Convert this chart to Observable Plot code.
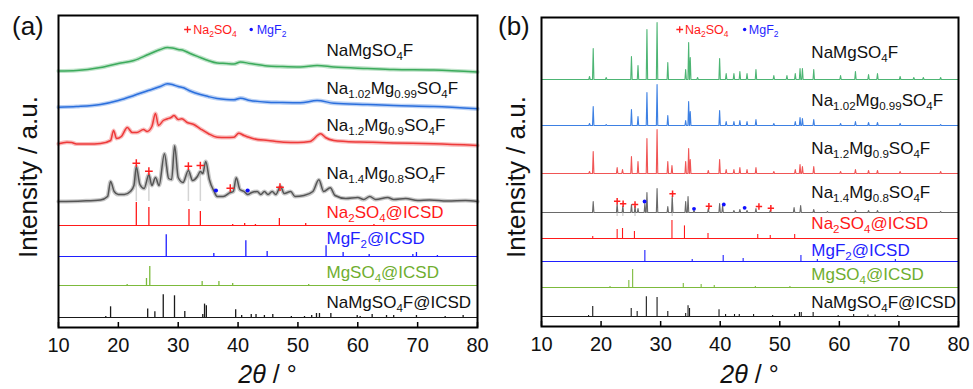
<!DOCTYPE html>
<html><head><meta charset="utf-8">
<script src="https://cdn.jsdelivr.net/npm/d3@7"></script>
<script src="https://cdn.jsdelivr.net/npm/@observablehq/plot@0.6"></script>
<style>
body{margin:0;background:#fff;font-family:Arial,"Liberation Sans",sans-serif;}
#wrap{position:relative;width:973px;height:389px;overflow:hidden;background:#fff;}
#wrap svg{position:absolute;top:0;}
</style></head><body><div id="wrap"></div>
<script>
// ---------- shared ----------
const xTicks = [10, 20, 30, 40, 50, 60, 70, 80];
const seriesNames = ["NaMgSO_{4}F", "Na_{1.02}Mg_{0.99}SO_{4}F", "Na_{1.2}Mg_{0.9}SO_{4}F", "Na_{1.4}Mg_{0.8}SO_{4}F",
  "Na_{2}SO_{4}@ICSD", "MgF_{2}@ICSD", "MgSO_{4}@ICSD", "NaMgSO_{4}F@ICSD"];
const labelColors = ["#111", "#111", "#111", "#111", "#ff1a1a", "#1f1fff", "#6fae2f", "#111"];
const expColorsA = ["#3cab5c", "#2b6fdd", "#ee3a3a", "#555555"];
const expColorsB = ["#4db574", "#3d80e3", "#f05555", "#6a6a6a"];
const icsdColors = ["#ff1a1a", "#1f1fff", "#7cba3c", "#1a1a1a"];
const legendNames = ["Na_{2}SO_{4}", "MgF_{2}"];

// ---------- panel (a) ----------
const offsetsA = [256, 220, 183, 126, 102, 71, 42, 10];
const labelLiftA = [21, 19, 19, 28, 13, 18, 13, 15];
const greenA = [[10,0.5],[13,1],[17,4],[20,8],[22.6,11],[25,17],[27,22],[28.2,24],[29,23.5],[30,22],[30.9,21],[32,18],[33.7,14],[35,11],[36.5,8.5],[38,8],[39.3,7.5],[40.4,9.5],[42,8],[44.9,5.5],[47,5],[50.4,4.5],[53.2,6],[56,4.5],[61.6,3],[66,2],[72.7,1.5],[80,-0.5]];
const blueA = [[10,0.3],[13,1],[17,3],[20,7],[22.6,12],[25,17],[27,21],[28.2,23.7],[29,23],[30,21],[30.9,19.7],[32,16.5],[33.7,13],[35,11],[36.5,9],[38,8],[39.3,7.7],[40.4,9.3],[42,7],[44.9,5.3],[47,5],[50.4,4.7],[53.2,7],[56,4.3],[61.6,3],[66,2],[72.7,1],[80,-1.3]];
const redA = [[10,0.7],[11.4,2.3],[12.2,2],[13,0.5],[15,0.5],[17,1],[18.7,4],[19.2,14],[19.7,6],[20.5,8],[21.5,17],[22.3,12],[23.1,12],[24.2,15],[24.8,13],[25.6,18],[26.2,31],[26.7,19],[27.5,24],[28.2,25.7],[28.8,27],[29.3,29],[30,25],[30.6,25.7],[31.5,22],[32.6,20],[33.7,15.7],[35,11],[36.5,7.3],[38,7],[39.3,7.3],[40.1,11.3],[41,9],[42.6,5.7],[45,4],[47.6,2.3],[50,2],[52,3],[53.8,10.7],[54.6,7],[56,4],[58,3],[61.6,2.3],[66,1.5],[72.7,0.7],[80,-1]];
const grayA = [[10,0],[14,0.5],[17,1.5],[18.2,5],[18.7,20],[19.3,10],[20,7],[21,7],[22,10],[22.6,16],[23.0,34.7],[23.6,17],[24.3,13],[25.1,26.7],[25.6,16],[26.2,24],[26.8,16],[27.7,47.7],[28.4,23],[28.9,22],[29.4,55.7],[30.0,24],[30.8,19],[31.7,31],[32.4,21],[33.2,25],[33.7,30],[34.1,28],[34.6,40],[35.2,22],[36.0,10],[36.5,5],[37.5,5],[38.7,9],[39.2,10],[39.7,23.7],[40.3,12],[41,10],[41.6,7],[42.3,9],[43.2,10],[43.8,7],[44.4,10],[45.0,7],[45.7,10],[46.3,7],[47.1,15],[47.7,8],[48.8,10],[49.5,5],[51,6],[52.5,10],[53.5,21.7],[54.3,10],[55.4,13.7],[56.2,6],[58,3],[60,4],[61,2],[62,5],[63,2],[65,4],[66,2],[68,3],[70,1],[72,1.5],[75,0.5],[78,1],[80,0]];
const na2so4A = [[23.0,23],[25.1,18],[31.8,16],[33.7,14],[39.1,1],[41.1,2],[42.9,1],[46.9,7],[51.3,2],[62.7,1]];
const mgf2A = [[28.0,21.7],[35.95,3],[41.3,15.7],[44.86,5],[54.7,10.7],[57.55,4],[61.9,2],[69.2,2],[69.8,4],[73.3,1]];
const mgso4A = [[21.47,1],[24.7,7],[25.25,19],[34.0,4],[36.8,4],[39.1,2],[51.8,1]];
const namgA = [[17.9,1],[18.7,10.7],[24.9,8.4],[26.1,5.7],[27.5,22.7],[29.38,21.7],[31.1,6],[34.1,3],[34.4,13.4],[34.7,11.7],[39.6,7.7],[40.6,2],[42.2,3],[43.0,3],[44.4,2],[45.8,3],[48.9,1],[51.1,1],[52.3,2],[53.1,4],[53.6,4],[55.5,4],[59.9,2],[60.4,1],[62.4,3],[64.8,2],[66.0,2],[69.8,2],[74.6,1],[77.6,2]];
const refA = [[23.0,30],[25.1,24],[31.7,28],[33.7,28]];
const plusA = [[23.0,38.3],[25.1,30.3],[31.7,35.3],[33.7,36],[38.7,13.3],[47.0,14.3]];
const dotA = [[36.3,11],[41.6,11]];

// ---------- panel (b) ----------
const offsetsB = [247, 201, 153, 114, 88, 65, 39, 10];
const labelLiftB = [27, 25, 25, 20, 15, 11, 13, 14];
const greenB = [[18.06,3],[18.68,31],[20.86,2],[25.1,23],[26.2,14],[27.7,50],[29.4,57],[31.2,17],[34.2,10],[34.7,37],[34.97,22],[36.2,2],[39.9,21],[41.0,6],[42.3,6],[43.3,8],[44.5,6],[46.0,10],[49.0,4],[51.2,4],[52.6,6],[53.4,11],[53.8,11],[55.7,10],[60.2,4],[62.7,8],[64.9,5],[66.4,6],[70.2,3],[72.5,2],[74.1,2],[77.0,2]];
const blueB = [[18.06,2],[18.68,19],[20.86,1],[25.1,16],[26.2,9],[27.7,33],[29.4,41],[31.2,10],[34.2,5],[34.7,24],[34.97,14],[39.9,15],[41.0,4],[42.3,4],[43.3,5],[44.5,4],[46.0,6],[49.0,2],[52.6,4],[53.4,8],[53.8,7],[55.7,6],[60.2,2],[62.7,4],[64.9,3],[66.4,3],[70.2,2],[77,1]];
const redB = [[18.06,2],[18.68,22],[22.7,6],[23.6,4],[25.1,17],[26.2,12],[27.7,35],[29.4,44],[31.2,12],[31.9,8],[34.2,12],[34.7,25],[34.97,14],[38.0,3],[39.9,14],[41.0,4],[42.3,4],[43.3,6],[44.5,4],[46.0,6],[49.0,2],[52.6,4],[53.4,9],[53.8,7],[55.7,7],[60.2,2],[62.7,4],[64.9,3],[66.4,3],[70.2,2],[77,2]];
const grayB = [[18.68,11],[22.7,8],[23.65,6],[25.1,8],[25.7,6],[26.2,4],[27.35,9],[27.7,20],[29.4,24],[31.2,6],[31.95,16],[34.2,11],[34.6,16],[35.6,2],[38.0,4],[39.9,9],[40.4,7],[42.3,2],[43.3,3],[44.5,2],[46.0,4],[48.4,2],[52.4,5],[53.5,7],[55.7,3],[58,1],[62.7,2],[64.9,2],[66.4,2],[70.2,1],[77,1]];
const na2so4B = [[18.6,2],[22.7,9],[23.6,10],[25.6,7],[31.9,18],[34.0,12.6],[37.95,5],[46.3,4],[48.4,3],[52.5,4]];
const mgf2B = [[27.35,11],[35.3,2],[40.5,6],[43.85,3],[53.55,6],[56.3,2],[69.4,2]];
const mgso4B = [[21.5,1],[24.66,7],[25.3,18],[33.8,4],[36.8,3],[39.0,2],[45.9,1],[51.7,1]];
const namgB = [[17.9,1],[18.6,10],[25.06,8],[26.06,5],[27.6,19.7],[29.4,19],[31.2,5],[34.2,3],[34.6,10.7],[34.85,8],[39.8,6.7],[40.9,2],[42.4,2],[43.2,2],[45.6,2],[48.8,1],[52.5,2],[53.3,4],[53.6,4],[55.6,4],[59.8,1],[62.4,2],[64.8,1.5],[66.0,1.5],[69.8,1]];
const refB = [[22.7,8],[23.65,6],[25.7,6],[31.95,14]];
const plusB = [[22.7,11.3],[23.7,8.7],[25.7,8],[32.0,18.7],[38.1,6.3],[46.5,6],[48.5,4.3]];
const dotB = [[27.3,11],[35.6,3.7],[40.6,8],[44.1,4.7]];

const FONT = "Arial, 'Liberation Sans', sans-serif";
const NS = "http://www.w3.org/2000/svg";

function richify(svg) {
  svg.querySelectorAll("text").forEach(t => {
    const s = t.textContent;
    if (!/[_*]\{/.test(s)) return;
    const fs = parseFloat(getComputedStyle(t).fontSize) || 16;
    while (t.firstChild) t.removeChild(t.firstChild);
    const re = /([_*])\{([^}]*)\}/g;
    let last = 0, m, shift = 0;
    const add = (txt, type) => {
      if (!txt) return;
      const ts = document.createElementNS(NS, "tspan");
      ts.textContent = txt;
      if (type === "_") {
        ts.setAttribute("font-size", fs * 0.68);
        const want = fs * 0.24;
        if (want - shift) ts.setAttribute("dy", want - shift);
        shift = want;
      } else {
        if (shift) { ts.setAttribute("dy", -shift); shift = 0; }
        if (type === "*") ts.setAttribute("font-style", "italic");
      }
      t.appendChild(ts);
    };
    while ((m = re.exec(s))) {
      add(s.slice(last, m.index), "");
      add(m[2], m[1]);
      last = re.lastIndex;
    }
    add(s.slice(last), "");
  });
}

function panel(cfg) {
  const lineMarks = [];
  cfg.exp.forEach((ser, i) => {
    let pts;
    if (cfg.expIsProfile) {
      pts = ser.map(([x, h]) => ({x, y: cfg.offsets[i] + h}));
      lineMarks.push(Plot.line(pts, {x: "x", y: "y", stroke: cfg.expColors[i], strokeWidth: 4.2, strokeOpacity: 0.33, curve: "monotone-x"}));
      lineMarks.push(Plot.line(pts, {x: "x", y: "y", stroke: cfg.expColors[i], strokeWidth: 1.5, curve: "monotone-x"}));
    } else {
      const w = 0.12;
      const raw = [[10, 0], [80, 0]];
      ser.forEach(([x, h]) => raw.push([x - w, 0], [x, h], [x + w, 0]));
      raw.sort((a, b) => a[0] - b[0]);
      pts = raw.map(([x, h]) => ({x, y: cfg.offsets[i] + h}));
      lineMarks.push(Plot.line(pts, {x: "x", y: "y", stroke: cfg.expColors[i], strokeWidth: 1.1, curve: "linear"}));
    }
  });
  const sticks = [], bases = [];
  cfg.icsd.forEach((ser, j) => {
    const off = cfg.offsets[4 + j];
    bases.push({y: off, c: icsdColors[j]});
    ser.forEach(([x, h]) => sticks.push({x, y1: off, y2: off + h, c: icsdColors[j]}));
  });
  const goff = cfg.offsets[3];
  const refs = cfg.refs.map(([x, h]) => ({x, y1: goff - cfg.refBelow, y2: goff + h}));
  const labels = seriesNames.map((name, i) => ({x: cfg.labelX, y: cfg.offsets[i] + cfg.lift[i], name, c: labelColors[i]}));
  const legend = [
    {x: cfg.legX[1], y: cfg.legY, name: legendNames[0], c: "#ff1a1a"},
    {x: cfg.legX[3], y: cfg.legY, name: legendNames[1], c: "#1f1fff"}
  ];
  const tickRows = xTicks.map(x => ({x}));
  const p = Plot.plot({
    width: cfg.width, height: 389,
    marginLeft: cfg.mL, marginRight: cfg.mR, marginTop: cfg.mT, marginBottom: cfg.mB,
    style: {background: "transparent", overflow: "visible", fontFamily: FONT, color: "#000"},
    x: {domain: [10, 80], ticks: xTicks, tickFormat: d => String(d)},
    y: {domain: [0, cfg.yMax], axis: null},
    color: {type: "identity"},
    marks: [
      Plot.ruleX(refs, {x: "x", y1: "y1", y2: "y2", stroke: "#d4d4d4", strokeWidth: 1.5}),
      ...lineMarks,
      Plot.ruleY(bases, {y: "y", x1: 10, x2: 80, stroke: "c", strokeWidth: 1.1}),
      Plot.ruleX(sticks, {x: "x", y1: "y1", y2: "y2", stroke: "c", strokeWidth: cfg.stickWidth}),
      Plot.dot(cfg.plus.map(([x, h]) => ({x, y: goff + h})), {x: "x", y: "y", symbol: "plus", r: cfg.plusR, stroke: "#ff2020", strokeWidth: 1.5}),
      Plot.dot(cfg.dots.map(([x, h]) => ({x, y: goff + h})), {x: "x", y: "y", r: cfg.dotR, fill: "#1010ff", stroke: "none"}),
      Plot.dot([{x: cfg.legX[0], y: cfg.legY}], {x: "x", y: "y", symbol: "plus", r: 2.3, stroke: "#ff2020", strokeWidth: 1.3}),
      Plot.dot([{x: cfg.legX[2], y: cfg.legY}], {x: "x", y: "y", r: 1.7, fill: "#1010ff", stroke: "none"}),
      Plot.text(legend, {x: "x", y: "y", text: "name", fill: "c", textAnchor: "start", fontSize: 12.5}),
      Plot.text(labels, {x: "x", y: "y", text: "name", fill: "c", textAnchor: "start", fontSize: 17}),
      Plot.ruleX(tickRows, {x: "x", y1: 0, y2: 5, stroke: "#000", strokeWidth: 1.5}),
      Plot.axisX({tickSize: 0, tickPadding: 10, fontSize: 20, label: null, fill: "#111"}),
      Plot.frame({stroke: "#000", strokeWidth: 2})
    ]
  });
  p.style.left = cfg.left + "px";
  document.getElementById("wrap").appendChild(p);
  const svg = d3.select(p);
  const cx = cfg.mL + (cfg.width - cfg.mL - cfg.mR) / 2;
  svg.append("text").attr("x", cfg.letterX).attr("y", 35).attr("text-anchor", "start")
    .attr("font-size", 26).attr("font-family", FONT).attr("fill", "#111").text(cfg.letter);
  svg.append("text").attr("transform", `translate(${cfg.yTitleX},177) rotate(-90)`).attr("text-anchor", "middle")
    .attr("font-size", 26).attr("font-family", FONT).attr("fill", "#111").text("Intensity / a.u.");
  svg.append("text").attr("x", cx).attr("y", 383).attr("text-anchor", "middle")
    .attr("font-size", 25).attr("font-family", FONT).attr("fill", "#111").text("*{2θ} / °");
  richify(p);
}

panel({left: 0, width: 490, mL: 58, mR: 13, mT: 15, mB: 62, yMax: 312,
  offsets: offsetsA, lift: labelLiftA, labelX: 54.77,
  exp: [greenA, blueA, redA, grayA], expIsProfile: true, expColors: expColorsA,
  icsd: [na2so4A, mgf2A, mgso4A, namgA], stickWidth: 1.3,
  refs: refA, refBelow: 0, plus: plusA, dots: dotA, plusR: 2.6, dotR: 2.1,
  legX: [31.55, 32.5, 42.2, 43.1], legY: 298,
  letter: "(a)", letterX: 12, yTitleX: 37});

panel({left: 483, width: 490, mL: 58, mR: 15, mT: 17, mB: 63, yMax: 309,
  offsets: offsetsB, lift: labelLiftB, labelX: 55.3,
  exp: [greenB, blueB, redB, grayB], expIsProfile: false, expColors: expColorsB,
  icsd: [na2so4B, mgf2B, mgso4B, namgB], stickWidth: 1.1,
  refs: refB, refBelow: 4, plus: plusB, dots: dotB, plusR: 2.2, dotR: 1.9,
  legX: [33.2, 34.1, 44.1, 44.8], legY: 297,
  letter: "(b)", letterX: 15, yTitleX: 42});
</script></body></html>
